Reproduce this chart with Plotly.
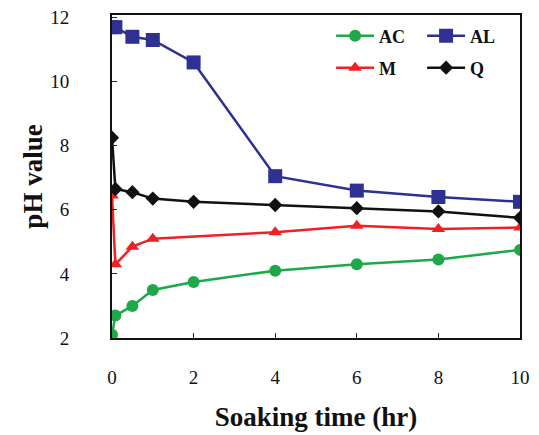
import plotly.graph_objects as go

times = [0, 0.083, 0.5, 1, 2, 4, 6, 8, 10]
ac = [2.1, 2.7, 3.0, 3.5, 3.75, 4.1, 4.3, 4.45, 4.75]
al = [11.7, 11.7, 11.4, 11.3, 10.6, 7.05, 6.6, 6.4, 6.25]
m_times = [0, 0.083, 0.5, 1, 4, 6, 8, 10]
m = [6.45, 4.3, 4.85, 5.1, 5.3, 5.5, 5.4, 5.45]
q = [8.25, 6.65, 6.55, 6.35, 6.25, 6.15, 6.05, 5.95, 5.75]

x_ticks = [0, 2, 4, 6, 8, 10]
y_ticks = [2, 4, 6, 8, 10, 12]

FONT = "Liberation Serif"

fig = go.Figure()
fig.add_trace(go.Scatter(x=times, y=ac, name="<b>AC</b>", mode="lines+markers",
                         line=dict(color="#1fa84a", width=2.5),
                         marker=dict(symbol="circle", size=12, color="#1fa84a"),
                         legend="legend"))
fig.add_trace(go.Scatter(x=times, y=al, name="<b>AL</b>", mode="lines+markers",
                         line=dict(color="#2e3192", width=2.5),
                         marker=dict(symbol="square", size=14, color="#2e3192"),
                         legend="legend"))
fig.add_trace(go.Scatter(x=m_times, y=m, name="<b>M</b>", mode="lines+markers",
                         line=dict(color="#ee2222", width=2.5),
                         marker=dict(symbol="triangle-up", size=12, color="#ee2222"),
                         legend="legend2"))
fig.add_trace(go.Scatter(x=times, y=q, name="<b>Q</b>", mode="lines+markers",
                         line=dict(color="#111111", width=2.5),
                         marker=dict(symbol="diamond", size=11, color="#111111"),
                         legend="legend2"))

legend_common = dict(orientation="h", xanchor="left", yanchor="middle",
                     bgcolor="rgba(0,0,0,0)", font=dict(family=FONT, size=18, color="#111"),
                     entrywidth=38, entrywidthmode="pixels", itemwidth=38,
                     tracegroupgap=0)

fig.update_layout(
    width=531, height=427,
    margin=dict(l=104, r=19, t=7, b=97, autoexpand=False),
    paper_bgcolor="white", plot_bgcolor="white",
    font=dict(family=FONT, color="#111"),
    showlegend=True,
    legend=dict(x=0.537, y=0.935, **legend_common),
    legend2=dict(x=0.537, y=0.836, **legend_common),
    xaxis=dict(range=[0, 10], tickvals=x_ticks, ticktext=[str(v) for v in x_ticks],
               ticks="inside", ticklen=5, tickcolor="#222", showgrid=False, zeroline=False,
               showline=True, linecolor="#111", linewidth=2, mirror=True, automargin=False,
               ticklabelstandoff=21, ticklabeloverflow="allow",
               tickfont=dict(family=FONT, size=19, color="#111"),
               title=dict(text="<b>Soaking time (hr)</b>", font=dict(family=FONT, size=27, color="#111"), standoff=20)),
    yaxis=dict(range=[2, 12.08], tickvals=y_ticks, ticktext=[str(v) for v in y_ticks],
               ticks="inside", ticklen=5, tickcolor="#222", showgrid=False, zeroline=False,
               showline=True, linecolor="#111", linewidth=2, mirror=True, automargin=False,
               ticklabelstandoff=37, ticklabeloverflow="allow",
               tickfont=dict(family=FONT, size=19, color="#111"),
               title=dict(text="<b>pH value</b>", font=dict(family=FONT, size=27, color="#111"), standoff=0)),
)

fig.write_html("out.html")
